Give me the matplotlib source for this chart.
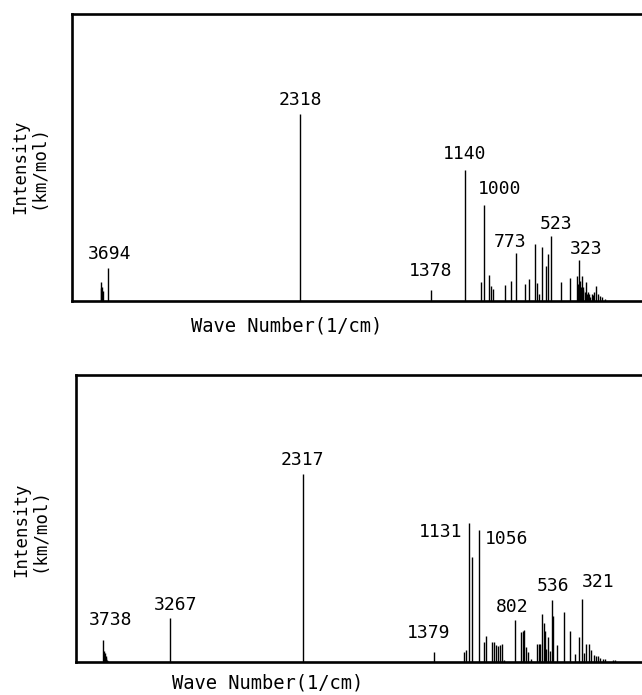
import numpy as np
import matplotlib
matplotlib.use('Agg')
import matplotlib.pyplot as plt

plt.rcParams['font.family'] = ['DejaVu Sans Mono', 'DejaVu Sans']

# 上图：计算的红外谱线 (波数 1/cm, 强度 km/mol)
wn1 = [3745, 3740, 3733, 3726, 3694, 2318, 1378, 1140, 1020, 1000, 967, 953, 939,
       853, 808, 773, 705, 681, 638, 619, 609, 586, 555, 540, 523, 450, 385, 335,
       330, 323, 316, 310, 301, 295, 290, 280, 273, 265, 259, 247, 240, 230, 220,
       213, 201, 187, 170, 154, 135]
int1 = [66, 45, 49, 35, 115, 650, 37, 456, 66, 334, 90, 52, 42,
        56, 70, 167, 59, 77, 198, 63, 24, 188, 122, 164, 226, 66, 80, 87,
        60, 143, 70, 50, 87, 40, 49, 30, 66, 25, 31, 24, 15, 24, 20,
        31, 52, 24, 17, 14, 7]
lab1 = ['3694', '2318', '1378', '1140', '1000', '773', '523', '323']
labwn1 = [3694, 2318, 1378, 1140, 1000, 773, 523, 323]

# 下图
wn2 = [3740, 3736, 3730, 3724, 3718, 3712, 3706, 3267, 2317, 1379, 1160, 1149,
       1131, 1104, 1056, 1019, 1007, 966, 949, 937, 919, 907, 894, 876, 802,
       759, 744, 733, 721, 709, 685, 640, 627, 619, 604, 595, 588, 576, 560,
       548, 536, 529, 500, 447, 405, 373, 345, 321, 305, 290, 273, 257, 237,
       221, 207, 190, 171, 155, 100, 85]
int2 = [76, 37, 30, 22, 15, 8, 3, 153, 655, 35, 35, 42,
        484, 365, 459, 70, 90, 70, 70, 58, 55, 58, 62, 7, 146,
        105, 108, 111, 52, 35, 10, 62, 62, 62, 167, 136, 108, 45, 87,
        38, 216, 160, 59, 174, 108, 28, 87, 219, 31, 62, 62, 42, 24,
        21, 21, 14, 10, 10, 7, 7]
lab2 = ['3738', '3267', '2317', '1379', '1131', '1056', '802', '536', '321']
labwn2 = [3740, 3267, 2317, 1379, 1131, 1056, 802, 536, 321]

# 标签偏移 (dx, dy 像素), 对齐方式
off1 = [(2, 5, 'center', 'bottom'), (0, 5, 'center', 'bottom'), (-1, 10, 'center', 'bottom'),
        (0, 7, 'center', 'bottom'), (15, 7, 'center', 'bottom'), (-6, 2, 'center', 'bottom'),
        (5, 3, 'center', 'bottom'), (7, 2, 'center', 'bottom')]
off2 = [(7, 11, 'center', 'bottom'), (6, 4, 'center', 'bottom'), (0, 5, 'center', 'bottom'),
        (-5, 10, 'center', 'bottom'), (-6, 0, 'right', 'top'), (6, 0, 'left', 'top'),
        (-2, 4, 'center', 'bottom'), (1, 5, 'center', 'bottom'), (0, 8, 'left', 'bottom')]

W, H = 642, 695
fig = plt.figure(figsize=(W / 100, H / 100), dpi=100)

ax1 = fig.add_axes([72 / W, (H - 301) / H, 588 / W, 287 / H])
ax2 = fig.add_axes([76 / W, (H - 662) / H, 588 / W, 287 / H])


def draw(ax, wn, inten, labs, labwn, offs, xl):
    ax.vlines(wn, 0, inten, colors='black', linewidth=1.0)
    ax.set_xlim(*xl)
    ax.set_ylim(0, 1000)
    ax.set_xticks([])
    ax.set_yticks([])
    for s in ax.spines.values():
        s.set_linewidth(1.9)
        s.set_color('black')
    for t, w, (dx, dy, ha, va) in zip(labs, labwn, offs):
        y = inten[wn.index(w)]
        ax.annotate(t, (w, y), xytext=(dx * 0.72, dy * 0.72), textcoords='offset points',
                    ha=ha, va=va, fontsize=13, color='black')


draw(ax1, wn1, int1, lab1, labwn1, off1, (3950, -259))
draw(ax2, wn2, int2, lab2, labwn2, off2, (3935, -265))

fig.text(29 / W, 1 - 167 / H, 'Intensity\n(km/mol)', rotation=90, ha='center', va='center',
         fontsize=12.5, linespacing=1.0, multialignment='center')
fig.text(30 / W, 1 - 530 / H, 'Intensity\n(km/mol)', rotation=90, ha='center', va='center',
         fontsize=12.5, linespacing=1.0, multialignment='center')
fig.text(287 / W, 1 - 326 / H, 'Wave Number(1/cm)', ha='center', va='center', fontsize=13.5)
fig.text(268 / W, 1 - 683 / H, 'Wave Number(1/cm)', ha='center', va='center', fontsize=13.5)

fig.savefig('out.png', dpi=100)
